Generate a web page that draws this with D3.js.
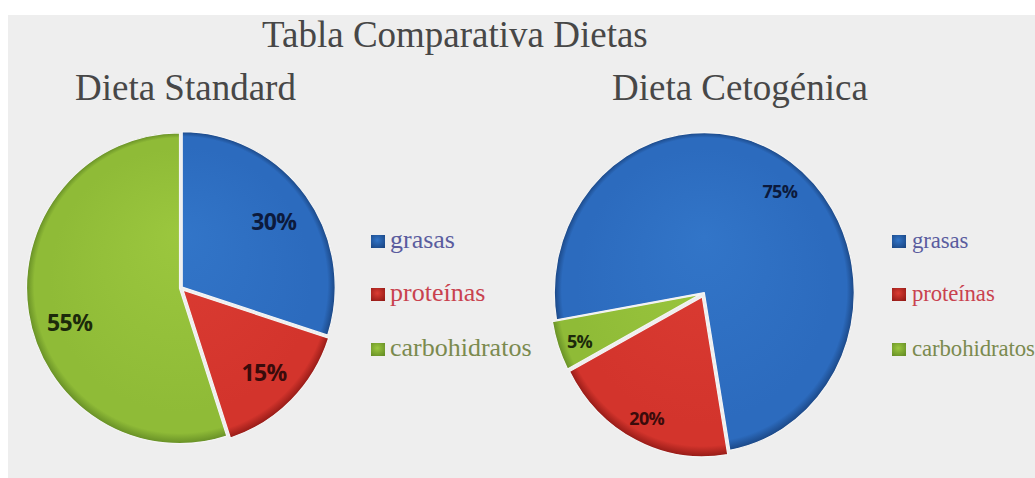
<!DOCTYPE html>
<html>
<head>
<meta charset="utf-8">
<script src="https://cdn.jsdelivr.net/npm/d3@7"></script>
<style>
  html, body { margin: 0; padding: 0; background: #ffffff; overflow: hidden; }
  svg { display: block; }
</style>
</head>
<body>
<svg id="chart" width="1035" height="478"></svg>
<script>
// Diet composition data (percent of daily energy)
const categories = ["grasas", "proteínas", "carbohidratos"];
const standardValues = [30, 15, 55];
const ketoValues = [75, 20, 5];
const chartTitle = "Tabla Comparativa Dietas";
const pieTitles = ["Dieta Standard", "Dieta Cetogénica"];

// Styling
const sliceColors = [
  { base: "#2c6bbe", light: "#3275c8", dark: "#1b4785" },
  { base: "#d3342c", light: "#db3c33", dark: "#951b17" },
  { base: "#8fbb37", light: "#9bc73e", dark: "#678f26" }
];
const labelInk = ["#0c1a3c", "#3a0b0b", "#1c2a0b"];
const legendInk = ["#5a5c9e", "#c9424f", "#7b8a4e"];

const svg = d3.select("#chart");
const W = 1035, H = 478;

// Page backdrop: white frame with light grey panel
svg.append("rect").attr("width", W).attr("height", H).attr("fill", "#ffffff");
svg.append("rect").attr("x", 8).attr("y", 15).attr("width", W - 8).attr("height", H - 15).attr("fill", "#eeeeee");

const defs = svg.append("defs");

// Main title and pie titles
svg.append("text")
  .attr("x", 262).attr("y", 47)
  .attr("font-family", "'Liberation Serif', 'Times New Roman', serif")
  .attr("font-size", 37)
  .attr("fill", "#474747")
  .text(chartTitle);

const pies = [
  { id: "std", values: standardValues, title: pieTitles[0], titleX: 75,
    cx: 181, cy: 288, r: 153, ky: 1.016, start: 0,
    explode: [1.5, 3, 1.5], labelR: 0.75, labelSize: 23,
    labelNudge: [[0, 2], [2, 2], [2, 16]],
    legendX: 371, textX: 390, legendSize: 26, legendSpacing: 0 },
  { id: "keto", values: ketoValues, title: pieTitles[1], titleX: 612,
    cx: 704, cy: 293, r: 150, ky: 1.067, start: 260.2 * Math.PI / 180,
    explode: [0.5, 4, 4], labelR: 0.82, labelSize: 18,
    labelNudge: [[5, 6], [-3, 8], [-8, 6]],
    legendX: 892, textX: 912, legendSize: 22.8, legendSpacing: -0.1 }
];

const legendBaselines = [248, 301, 356];

pies.forEach(p => {
  svg.append("text")
    .attr("x", p.titleX).attr("y", 100)
    .attr("font-family", "'Liberation Serif', 'Times New Roman', serif")
    .attr("font-size", 37)
    .attr("fill", "#474747")
    .text(p.title);

  // Shaded fills for each slice colour
  sliceColors.forEach((c, i) => {
    const g = defs.append("radialGradient")
      .attr("id", `grad-${p.id}-${i}`)
      .attr("gradientUnits", "userSpaceOnUse")
      .attr("cx", 0).attr("cy", 0).attr("r", p.r)
      .attr("fx", 0).attr("fy", -p.r * 0.35);
    g.append("stop").attr("offset", "0%").attr("stop-color", c.light);
    g.append("stop").attr("offset", "85%").attr("stop-color", c.base);
    g.append("stop").attr("offset", "95%").attr("stop-color", c.base);
    g.append("stop").attr("offset", "100%").attr("stop-color", c.dark);
  });

  const pie = d3.pie().sort(null).value(d => d)
    .startAngle(p.start).endAngle(p.start + 2 * Math.PI);
  const arcs = pie(p.values);
  const arc = d3.arc().innerRadius(0).outerRadius(p.r);
  const labelArc = d3.arc().innerRadius(p.r * p.labelR).outerRadius(p.r * p.labelR);

  const g = svg.append("g").attr("transform", `translate(${p.cx},${p.cy})`);
  const pieG = g.append("g").attr("transform", `scale(1,${p.ky})`);

  pieG.selectAll("path")
    .data(arcs)
    .join("path")
    .attr("transform", (d, i) => {
      const mid = (d.startAngle + d.endAngle) / 2;
      const e = p.explode[i];
      return `translate(${Math.sin(mid) * e},${-Math.cos(mid) * e})`;
    })
    .attr("d", arc)
    .attr("fill", (d, i) => `url(#grad-${p.id}-${i})`)
    .attr("stroke", "#f4f4f4")
    .attr("stroke-width", 1.2)
    .attr("stroke-linejoin", "round");

  // Percentage labels
  g.selectAll("text.pct")
    .data(arcs)
    .join("text")
    .attr("class", "pct")
    .attr("x", (d, i) => labelArc.centroid(d)[0] + p.labelNudge[i][0])
    .attr("y", (d, i) => labelArc.centroid(d)[1] * p.ky + p.labelNudge[i][1])
    .attr("dy", "0.36em")
    .attr("text-anchor", "middle")
    .attr("font-family", "'Open Sans', 'Liberation Sans', sans-serif")
    .attr("font-weight", 700)
    .attr("font-size", p.labelSize)
    .attr("letter-spacing", -0.6)
    .attr("fill", (d, i) => labelInk[i])
    .text(d => d.data + "%");

  // Legend
  const leg = svg.append("g");
  categories.forEach((name, i) => {
    const lg = defs.append("radialGradient")
      .attr("id", `leg-${p.id}-${i}`)
      .attr("cx", "45%").attr("cy", "40%").attr("r", "70%");
    lg.append("stop").attr("offset", "0%").attr("stop-color", sliceColors[i].light);
    lg.append("stop").attr("offset", "100%").attr("stop-color", sliceColors[i].dark);
    leg.append("rect")
      .attr("x", p.legendX).attr("y", legendBaselines[i] - 13)
      .attr("width", 14).attr("height", 13)
      .attr("fill", `url(#leg-${p.id}-${i})`);
    leg.append("text")
      .attr("x", p.textX).attr("y", legendBaselines[i])
      .attr("font-family", "'Liberation Serif', 'Times New Roman', serif")
      .attr("font-size", p.legendSize)
      .attr("letter-spacing", p.legendSpacing)
      .attr("fill", legendInk[i])
      .text(name);
  });
});
</script>
</body>
</html>
